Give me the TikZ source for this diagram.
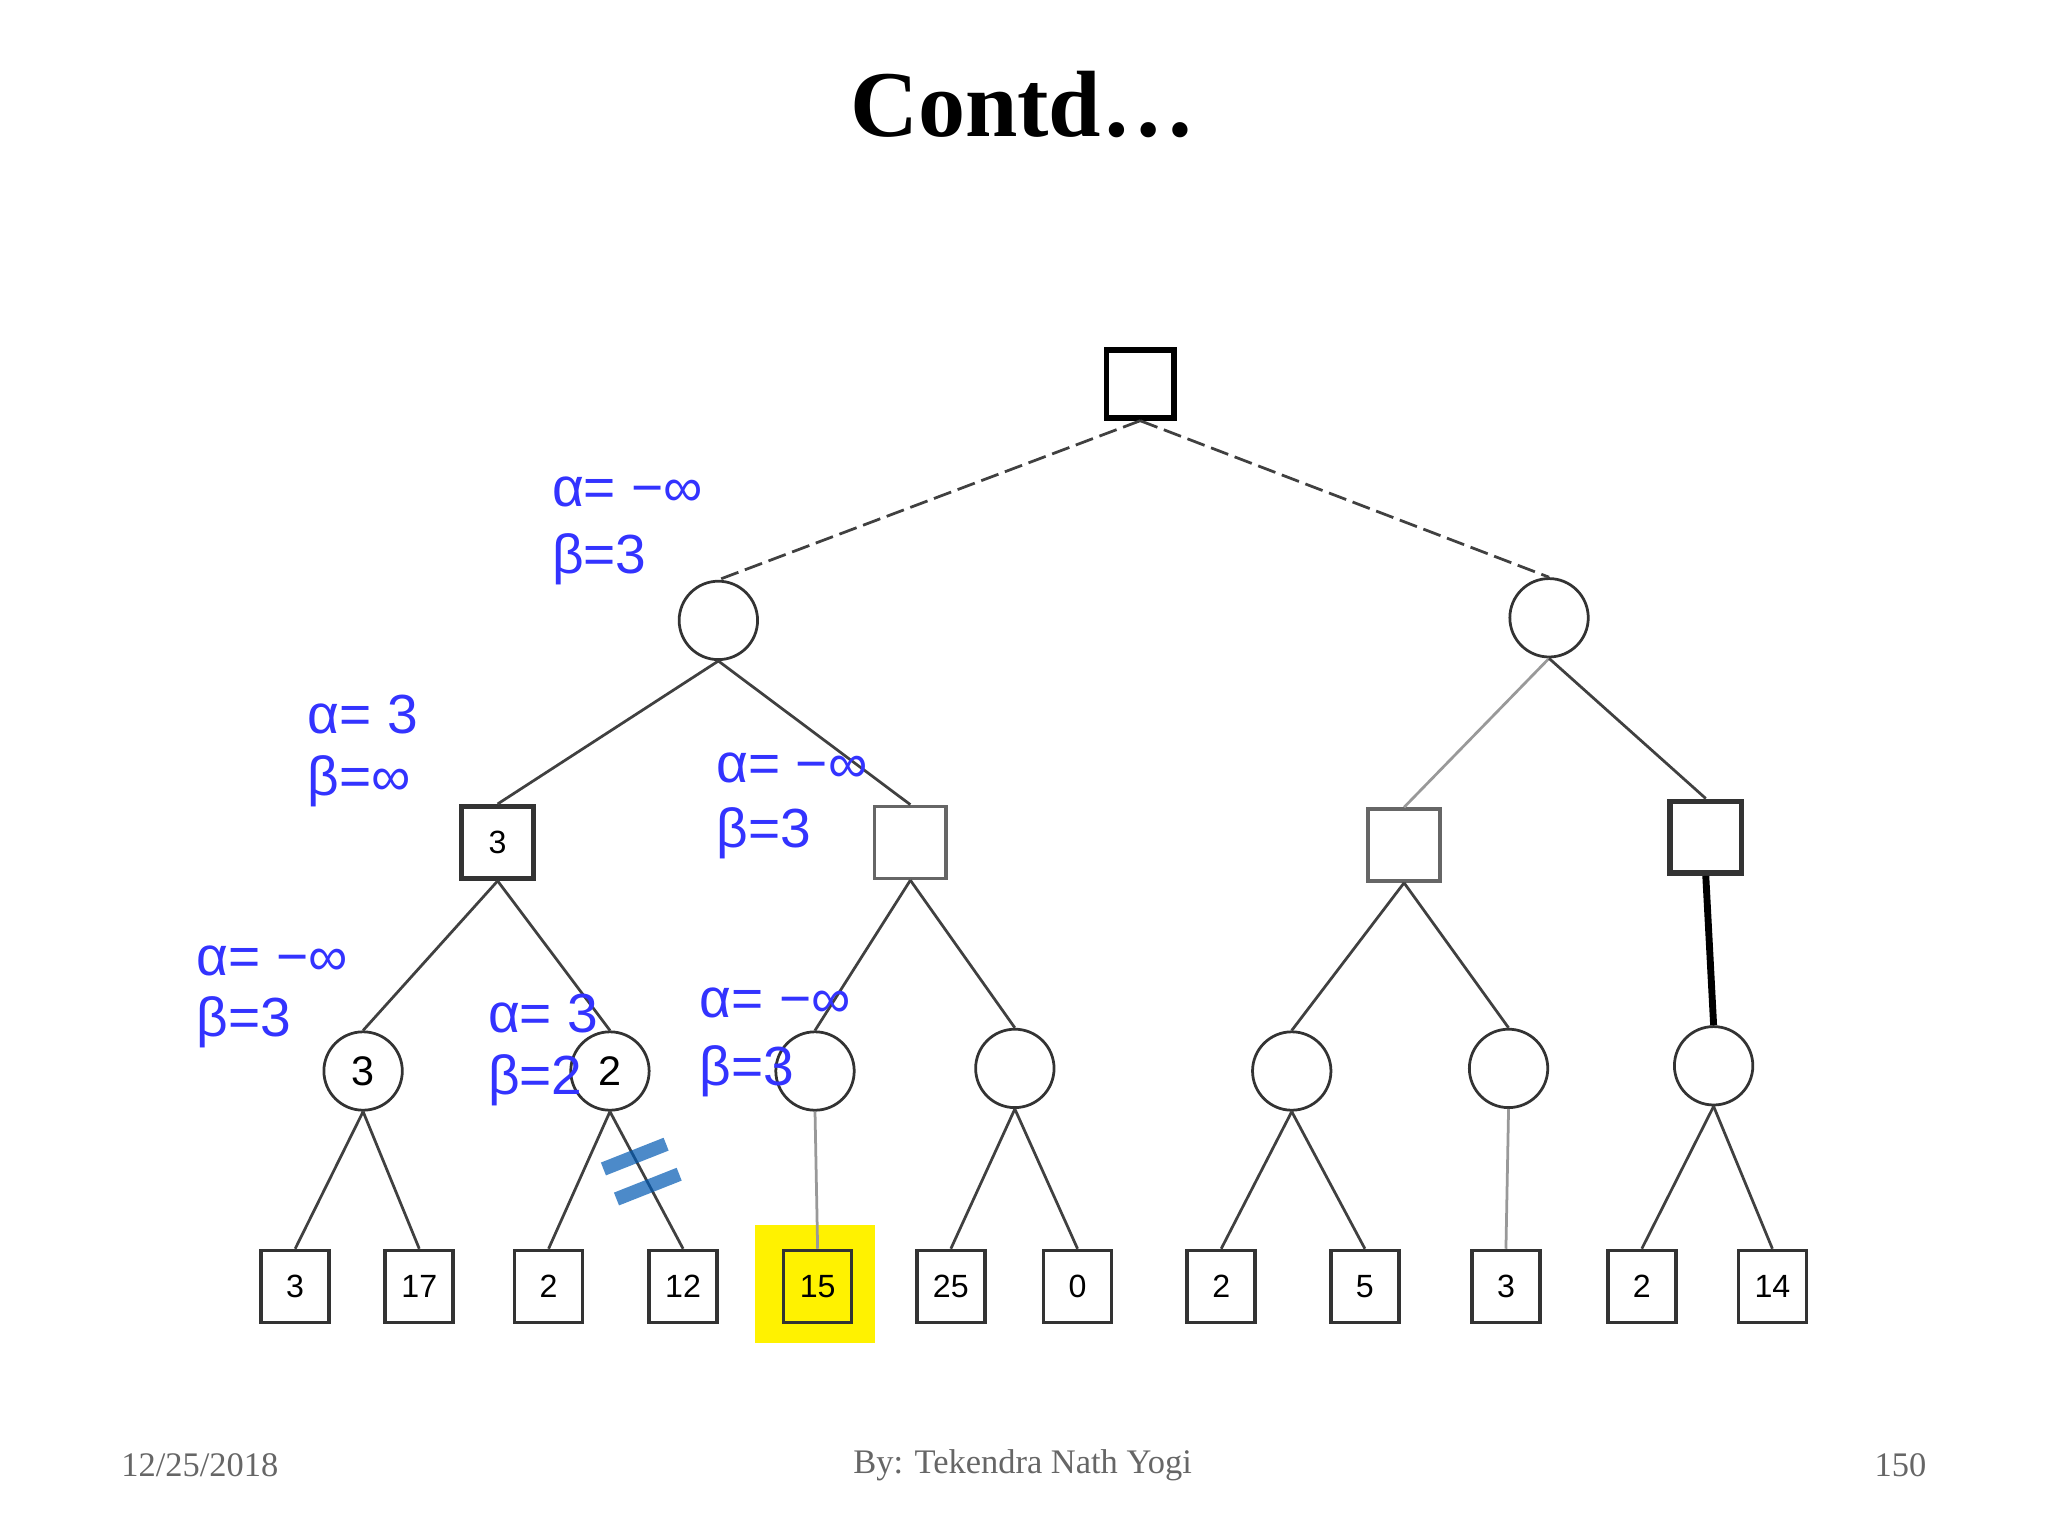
\documentclass[tikz,border=0pt]{standalone}
\usepackage{fontspec}
\setmainfont{Liberation Serif}
\newfontfamily\lab{Liberation Sans}
\begin{document}
\begin{tikzpicture}[x=0.01cm,y=-0.01cm,
 mx/.style={draw=black,line width=1.2pt,minimum size=0.52cm,inner sep=0pt,font=\lab\small},
 sq/.style={draw=black!80,line width=0.8pt,minimum width=0.52cm,minimum height=0.55cm,inner sep=0pt,font=\lab\scriptsize},
 ci/.style={circle,draw=black!80,line width=0.6pt,minimum size=0.6cm,inner sep=0pt,font=\lab\small},
 ed/.style={draw=black!75,line width=0.6pt},
 lb/.style={text=blue!80!white,font=\lab\large,anchor=west,inner sep=0pt}]
\useasboundingbox (0,0) rectangle (1568,1176);
\node[font=\bfseries\fontsize{20.5}{24}\selectfont] (t) at (783,80) {Contd…};
\node[font=\fontsize{7.5}{9}\selectfont,text=black!60] (d) at (153,1122) {12/25/2018};
\node[font=\fontsize{7.5}{9}\selectfont,text=black!60] (a) at (783,1122) {By: Tekendra Nath Yogi};
\node[font=\fontsize{7.5}{9}\selectfont,text=black!60] (p) at (1455,1122) {150};
\fill[yellow] (578,938) rectangle (670,1028);
\node[mx] (r) at (873,294) {};
\node[ci] (c1) at (550,475) {};
\node[ci] (c2) at (1186,473) {};
\node[sq,minimum width=0.55cm,line width=1.1pt] (s1) at (381,645) {3};
\node[sq,minimum width=0.55cm,draw=black!60] (s2) at (697,645) {};
\node[sq,minimum width=0.55cm,draw=black!60] (s3) at (1075,647) {};
\node[sq,minimum width=0.55cm,line width=1.2pt] (s4) at (1306,641) {};
\node[ci] (d1) at (278,820) {3};
\node[ci] (d2) at (467,820) {2};
\node[ci] (d3) at (624,820) {};
\node[ci] (d4) at (777,818) {};
\node[ci] (d5) at (989,820) {};
\node[ci] (d6) at (1155,818) {};
\node[ci] (d7) at (1312,816) {};
\foreach \n/\x/\t in {l1/226/3,l2/321/17,l3/420/2,l4/523/12,l5/626/15,l6/728/25,l7/825/0,l8/935/2,l9/1045/5,l10/1153/3,l11/1257/2,l12/1357/14}
  \node[sq] (\n) at (\x,985) {\t};
\draw[ed,dash pattern=on 4pt off 1.5pt] (r.south) -- (c1.north);
\draw[ed,dash pattern=on 4pt off 1.5pt] (r.south) -- (c2.north);
\draw[ed] (c1.south) -- (s1.north); \draw[ed] (c1.south) -- (s2.north);
\draw[ed,black!40] (c2.south) -- (s3.north); \draw[ed] (c2.south) -- (s4.north);
\draw[ed] (s1.south) -- (d1.north); \draw[ed] (s1.south) -- (d2.north);
\draw[ed] (s2.south) -- (d3.north); \draw[ed] (s2.south) -- (d4.north);
\draw[ed] (s3.south) -- (d5.north); \draw[ed] (s3.south) -- (d6.north);
\draw[line width=1.5pt] (s4.south) -- (d7.north);
\draw[ed] (d1.south) -- (l1.north); \draw[ed] (d1.south) -- (l2.north);
\draw[ed] (d2.south) -- (l3.north); \draw[ed] (d2.south) -- (l4.north);
\draw[ed,black!40] (d3.south) -- (l5.north);
\draw[ed] (d4.south) -- (l6.north); \draw[ed] (d4.south) -- (l7.north);
\draw[ed] (d5.south) -- (l8.north); \draw[ed] (d5.south) -- (l9.north);
\draw[ed,black!40] (d6.south) -- (l10.north);
\draw[ed] (d7.south) -- (l11.north); \draw[ed] (d7.south) -- (l12.north);
\node[lb] (a1) at (422,377) {α= −∞};
\node[lb] (b1) at (422,428) {β=3};
\node[lb] (a2) at (235,547) {α= 3};
\node[lb] (b2) at (235,598) {β=∞};
\node[lb] (a3) at (548,588) {α= −∞};
\node[lb] (b3) at (548,638) {β=3};
\node[lb] (a4) at (150,736) {α= −∞};
\node[lb] (b4) at (150,783) {β=3};
\node[lb] (a5) at (373,776) {α= 3};
\node[lb] (b5) at (373,827) {β=2};
\node[lb] (a6) at (535,768) {α= −∞};
\node[lb] (b6) at (535,820) {β=3};
\coordinate (k1) at (462,895); \coordinate (k2) at (510,876);
\coordinate (k3) at (472,918); \coordinate (k4) at (520,899);
\draw[line width=3pt,blue!50!cyan!70!black,opacity=0.7] (k1) -- (k2);
\draw[line width=3pt,blue!50!cyan!70!black,opacity=0.7] (k3) -- (k4);
\end{tikzpicture}
\end{document}
